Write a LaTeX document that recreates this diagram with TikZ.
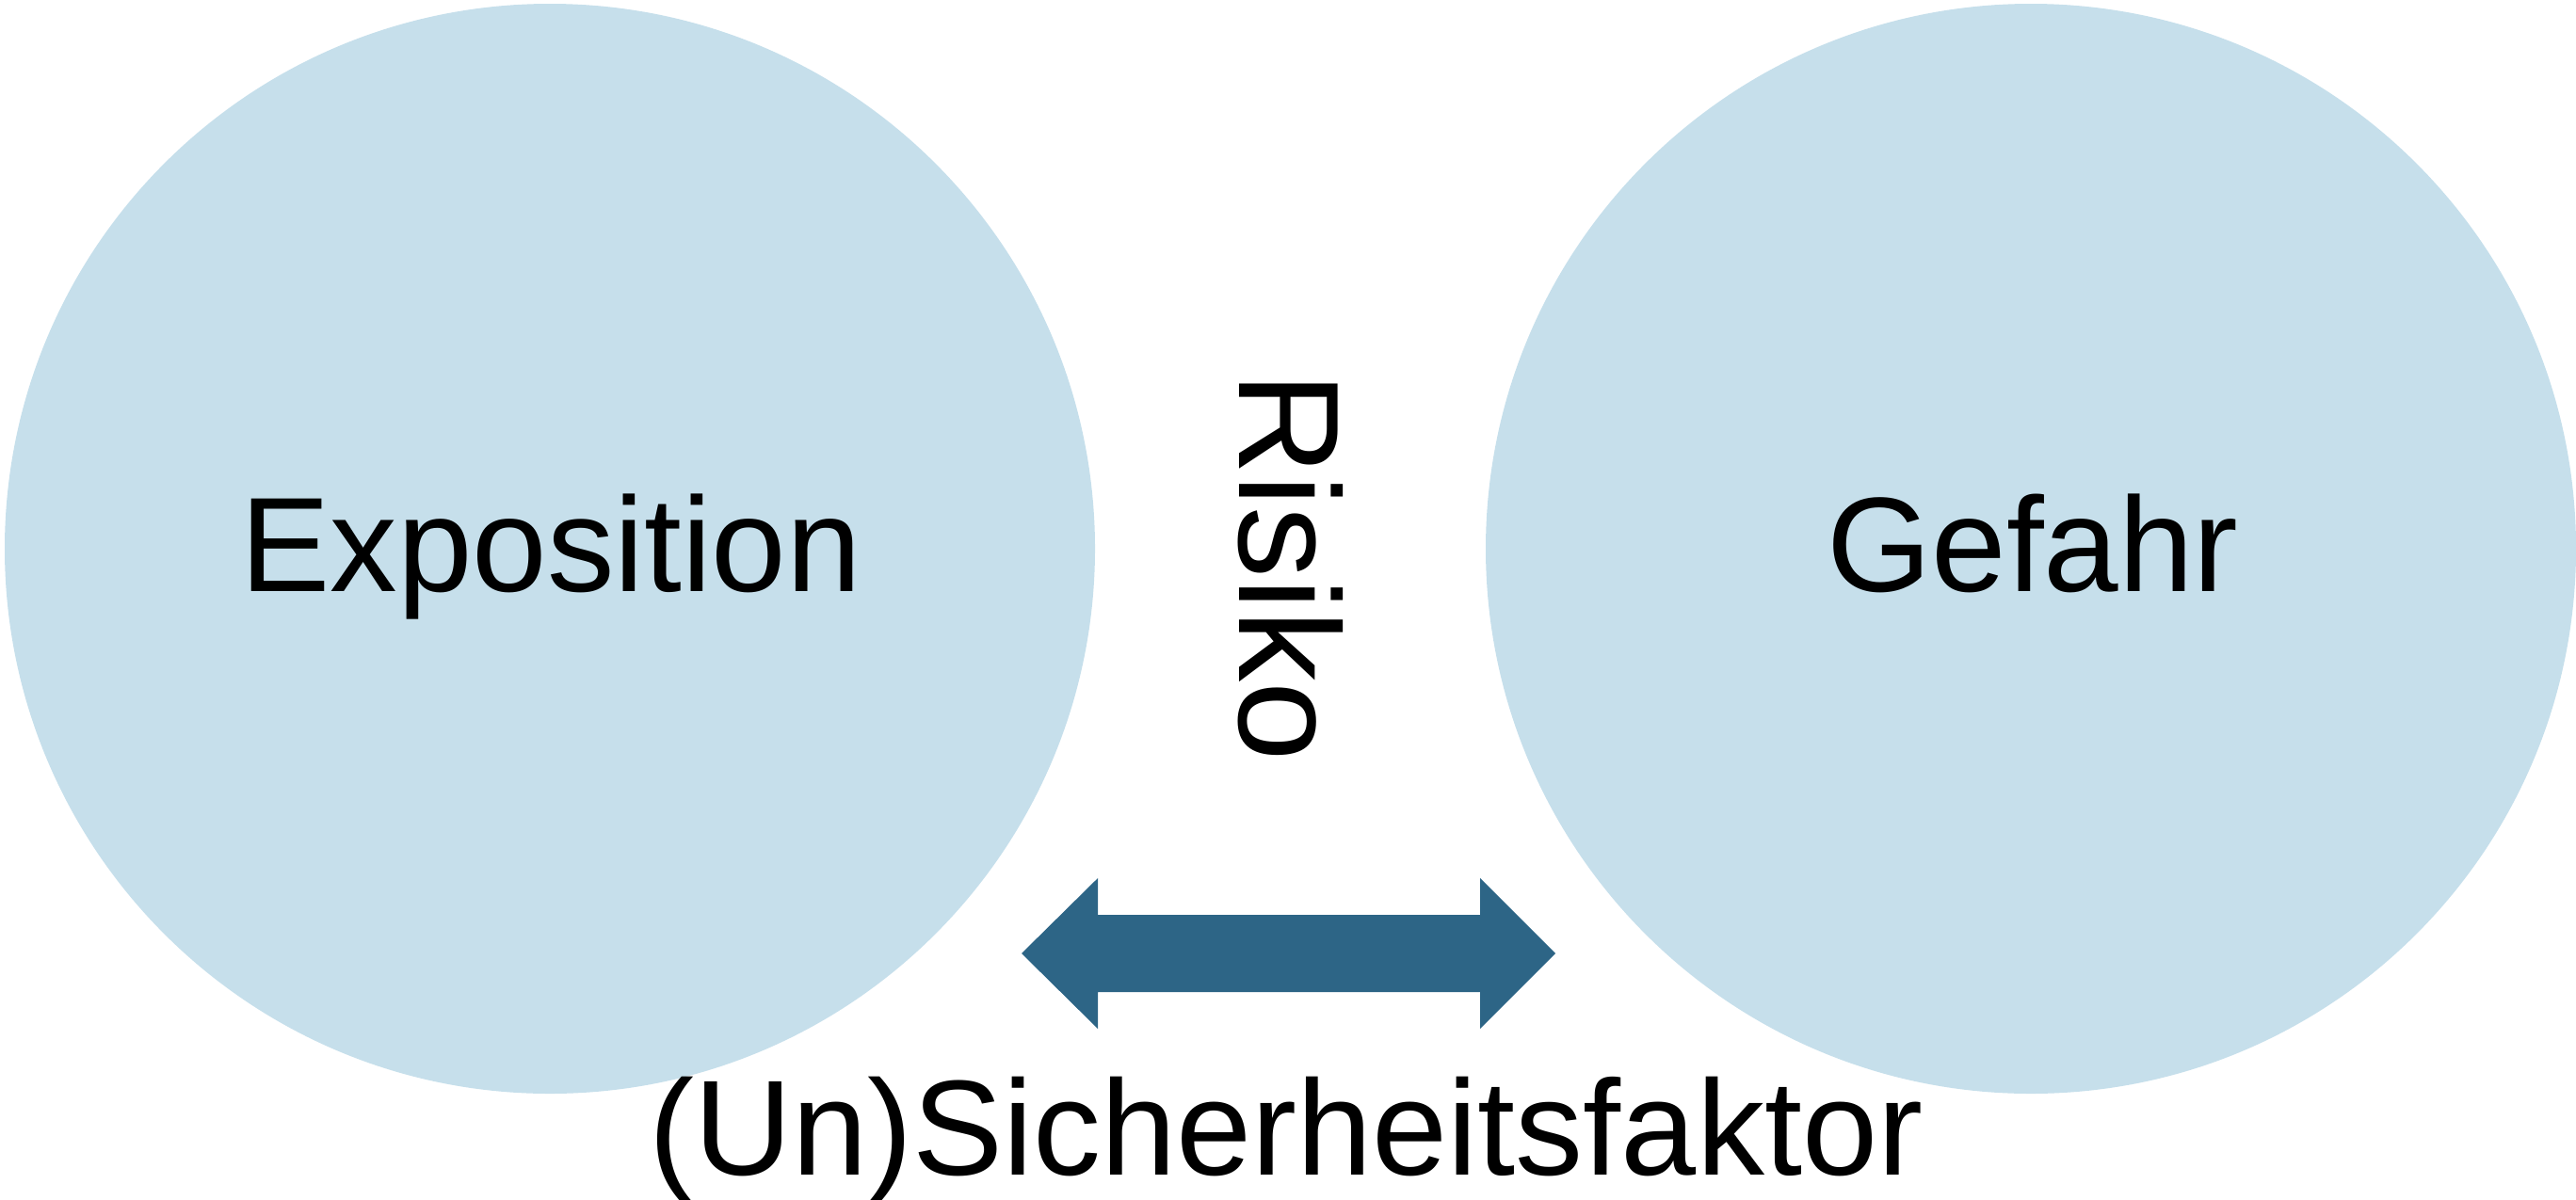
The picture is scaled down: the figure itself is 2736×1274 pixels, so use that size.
\documentclass[tikz,border=0pt]{standalone}
\usepackage{fontspec}
\setmainfont{Liberation Sans}
\definecolor{circfill}{HTML}{C6DFEB}
\definecolor{arrowfill}{HTML}{2D6586}
\tikzset{
  bubble/.style={circle, fill=circfill, draw=none, inner sep=0pt, minimum size=289.5pt},
  bigtext/.style={font=\fontsize{35.75pt}{40pt}\selectfont, inner sep=0pt, text=black},
}
\begin{document}
\begin{tikzpicture}[x=0.25pt,y=-0.25pt]
\useasboundingbox (0,0) rectangle (2736,1274);
\node[bubble] (expo) at (584,583) {};
\node[bubble] (gef) at (2157,583) {};
\node[bigtext, anchor=base] (expotext) at (585,628) {Exposition};
\node[bigtext, anchor=base] (geftext) at (2159,628) {Gefahr};
\node[bigtext, font=\fontsize{38pt}{42pt}\selectfont, anchor=base, rotate=-90] (risiko) at (1316,602) {Risiko};
% double arrow
\coordinate (ltip) at (1085,1013);
\coordinate (rtip) at (1652,1013);
\fill[arrowfill] (ltip) -- (1166,933) -- (1166,972) -- (1572,972) -- (1572,933)
  -- (rtip) -- (1572,1093) -- (1572,1054) -- (1166,1054) -- (1166,1093) -- cycle;
\node[bigtext, font=\fontsize{36pt}{40pt}\selectfont, anchor=base] (faktor) at (1366,1248) {(Un)Sicherheitsfaktor};
\end{tikzpicture}
\end{document}
